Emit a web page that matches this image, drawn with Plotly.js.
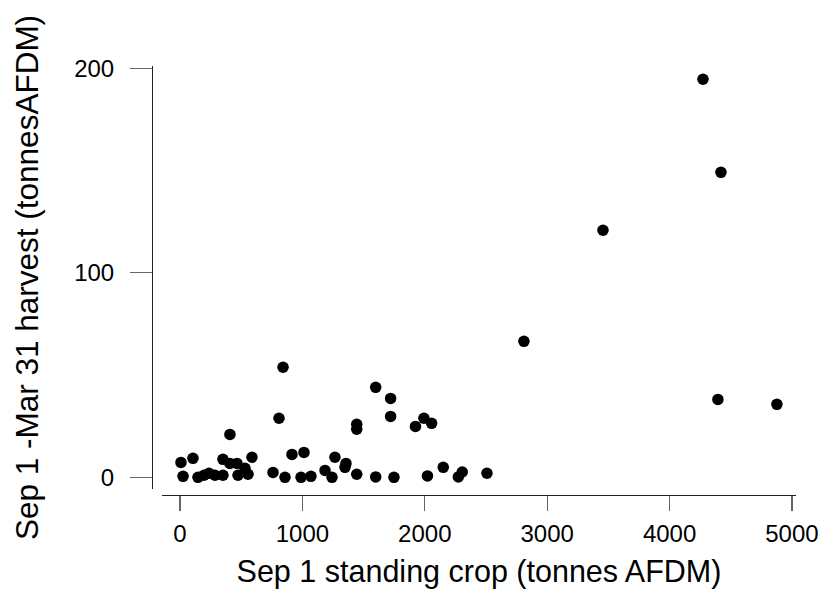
<!DOCTYPE html>
<html>
<head>
<meta charset="utf-8">
<script src="https://cdn.plot.ly/plotly-3.0.1.min.js"></script>
<style>html,body{margin:0;padding:0;background:#fff;}#chart{width:822px;height:595px;}</style>
</head>
<body>
<div id="chart"></div>
<script>
// Sep 1 standing crop (tonnes AFDM)
const standingCrop = [8, 106, 25, 147, 196, 237, 286, 351, 351, 408, 408, 466, 474, 531, 556, 588,
  760, 809, 842, 858, 915, 989, 1013, 1070, 1185, 1242, 1266, 1348, 1356, 1444, 1444, 1444,
  1599, 1599, 1721, 1721, 1748, 1924, 1993, 2056, 2022, 2151, 2274, 2306, 2508,
  2810, 3456, 4273, 4420, 4395, 4877];
// Sep 1 - Mar 31 harvest (tonnes AFDM)
const harvest = [7.3, 9.3, 0.5, 0, 1, 2, 1, 1, 8.8, 6.8, 21, 6.8, 1, 4.4, 1.5, 9.8,
  2.4, 28.9, 53.8, 0, 11.2, 0, 12.2, 0.5, 3.4, 0, 9.8, 4.9, 6.8, 1.5, 25.9, 23.5,
  44, 0.2, 38.6, 29.8, 0, 24.9, 28.9, 26.4, 0.7, 4.9, 0.2, 2.6, 2,
  66.5, 120.8, 194.6, 149.1, 38.1, 35.7];
const xTicks = [0, 1000, 2000, 3000, 4000, 5000];
const yTicks = [0, 100, 200];

const W = 822, H = 595;
const font = {family: 'Liberation Sans, Arial, sans-serif', color: '#000'};

const trace = {
  x: standingCrop, y: harvest, type: 'scatter', mode: 'markers',
  marker: {color: '#000', size: 11.5, line: {width: 0}},
  hoverinfo: 'skip'
};

const layout = {
  width: W, height: H,
  margin: {l: 0, r: 0, t: 0, b: 0, pad: 0},
  paper_bgcolor: '#fff', plot_bgcolor: 'rgba(0,0,0,0)',
  showlegend: false,
  font: Object.assign({size: 22}, font),
  xaxis: {
    domain: [162 / W, 796 / W],
    range: [-147, 5033],
    anchor: 'free', position: (H - 495) / H,
    showgrid: false, zeroline: false,
    showline: true, linecolor: '#222', linewidth: 1.3,
    tickmode: 'array', tickvals: xTicks, ticktext: xTicks.map(String),
    ticks: 'outside', ticklen: 15, tickcolor: '#666', tickwidth: 1.3,
    ticklabelstandoff: 2,
    tickfont: Object.assign({size: 24}, font),
    title: {text: 'Sep 1 standing crop (tonnes AFDM)', font: Object.assign({size: 30.5}, font), standoff: 14},
    automargin: false
  },
  yaxis: {
    domain: [(H - 489) / H, (H - 66) / H],
    range: [-5.7, 201.1],
    anchor: 'free', position: 152 / W,
    showgrid: false, zeroline: false,
    showline: true, linecolor: '#222', linewidth: 1.3,
    tickmode: 'array', tickvals: yTicks, ticktext: yTicks.map(String),
    ticks: 'outside', ticklen: 22, tickcolor: '#666', tickwidth: 1.3,
    ticklabelstandoff: 11,
    tickfont: Object.assign({size: 24}, font),
    title: {text: 'Sep 1 -Mar 31 harvest (tonnesAFDM)', font: Object.assign({size: 31.5}, font), standoff: 24},
    automargin: false
  }
};

Plotly.newPlot('chart', [trace], layout, {staticPlot: true, displayModeBar: false});
</script>
</body>
</html>
